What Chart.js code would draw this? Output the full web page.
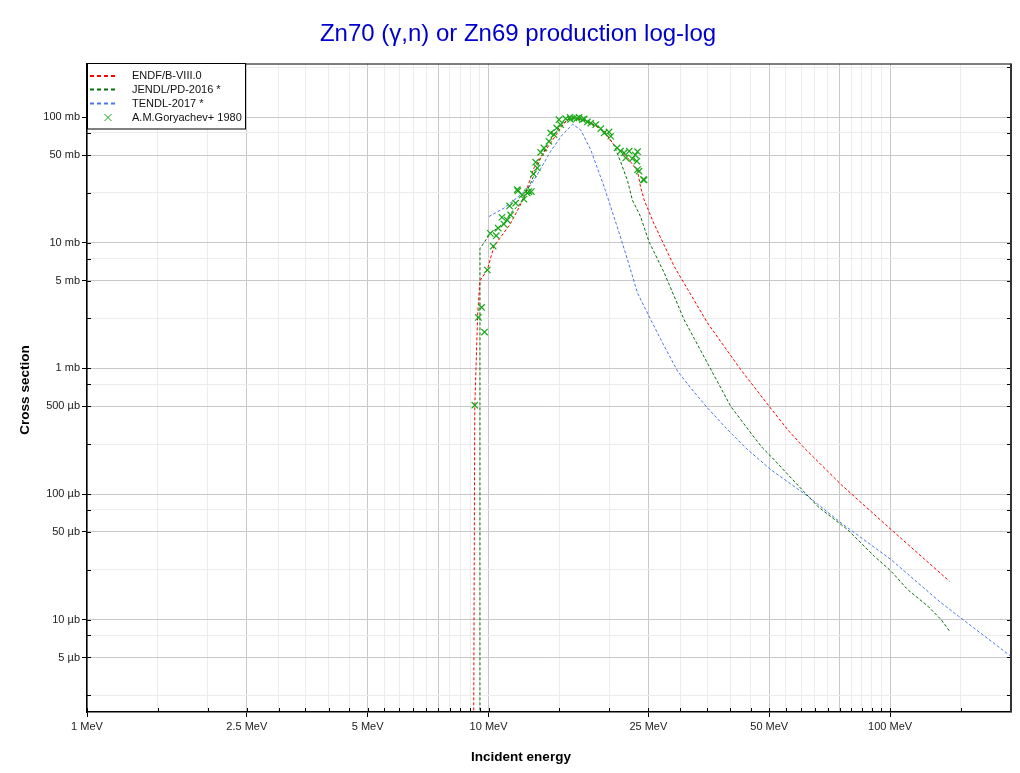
<!DOCTYPE html>
<html>
<head>
<meta charset="utf-8">
<script src="https://cdn.jsdelivr.net/npm/chart.js@4"></script>
<style>
  body { margin: 0; background: #fff; }
</style>
</head>
<body>
<canvas id="canvas" width="1020" height="773"></canvas>
<script>
// energies in MeV, cross sections in mb
const endfEnergy = [9.18, 9.24, 9.40, 9.52, 9.93, 10.31, 11.35, 12.25, 12.97, 14.0, 15.12, 15.7, 16.0, 16.8, 17.97, 19.4, 20.5, 22.2, 23.5, 23.9, 24.4, 25.8, 29.0, 35.1, 42.5, 50, 55.6, 61.1, 75.5, 100.6, 140.6];
const endfXs = [0.0012, 0.5, 2.8, 5.0, 6.1, 9.35, 14.3, 22.8, 39.5, 57, 82, 95.7, 98.6, 97, 90, 77.4, 60.5, 47.5, 37.2, 28, 22, 14.3, 6.48, 2.3, 0.976, 0.499, 0.325, 0.233, 0.119, 0.0521, 0.0202];

const jendlEnergy = [9.52, 9.52, 10.1, 10.92, 11.35, 12.02, 12.73, 13.5, 14.3, 15.1, 15.8, 16.5, 17.5, 18.5, 19.5, 20.5, 21.3, 22.2, 22.8, 23.9, 25.1, 27.4, 30.7, 35.1, 40.1, 45, 48.1, 50.5, 66, 78.4, 91.4, 100.6, 110.7, 124.2, 134, 140.6];
const jendlXs = [0.0012, 9.0, 11.9, 14.3, 17.3, 20.7, 29.8, 48, 68, 85, 96, 98, 93, 86, 76, 60.5, 44.7, 31, 22, 16.2, 10.2, 5.74, 2.44, 1.10, 0.499, 0.306, 0.233, 0.1995, 0.0798, 0.052, 0.0319, 0.0243, 0.0173, 0.0128, 0.010, 0.0081];

const tendlEnergy = [10.02, 10.92, 12.02, 12.73, 13.22, 14.28, 15.27, 16.2, 16.96, 17.97, 19.4, 20.9, 22.2, 23.5, 25.35, 27.4, 29.6, 31.9, 35.1, 39.4, 43.7, 50.5, 62.4, 75.5, 100.6, 134, 200];
const tendlXs = [16.2, 18.9, 24.1, 28.9, 34.9, 53.7, 72.7, 88, 79.3, 55, 28, 13.5, 7.3, 3.98, 2.44, 1.5, 0.946, 0.698, 0.484, 0.325, 0.233, 0.156, 0.096, 0.0589, 0.030, 0.0136, 0.0051];

const expEnergy = [9.24, 9.43, 9.61, 9.77, 9.93, 10.1, 10.27, 10.45, 10.57, 10.8, 10.92, 11.13, 11.28, 11.35, 11.68, 11.79, 11.83, 12.13, 12.25, 12.49, 12.6, 12.78, 12.93, 13.1, 13.22, 13.48, 13.74, 14.14, 14.28, 14.55, 14.78, 14.97, 15.12, 15.56, 15.95, 16.0, 16.32, 16.6, 16.8, 17.13, 17.3, 17.63, 17.97, 18.49, 19.03, 19.4, 19.95, 20.15, 20.9, 21.3, 21.75, 21.96, 22.4, 22.8, 23.2, 23.4, 23.5, 23.5, 23.7, 24.3, 24.4];
const expXs = [0.51, 2.55, 3.06, 1.95, 6.08, 11.9, 9.41, 11.4, 13.1, 16.0, 14.1, 15.2, 19.7, 16.7, 20.7, 26.5, 25.9, 24.1, 22.3, 25.0, 25.6, 25.6, 35.4, 43.9, 39.5, 52.6, 57, 64.4, 75, 72.7, 82.2, 95.7, 87.3, 97.5, 100, 96, 98.7, 98, 100, 95.7, 97, 91.8, 90, 87.3, 81.2, 75, 76.4, 70.6, 57, 53.7, 52, 47.5, 53.7, 46.9, 50, 44.7, 38.3, 53.2, 37.2, 31.9, 31.7];

const xTicks = [1, 1.5, 2, 2.5, 3, 3.5, 4, 4.5, 5, 5.5, 6, 6.5, 7, 7.5, 8, 8.5, 9, 9.5, 10, 15, 20, 25, 30, 35, 40, 45, 50, 55, 60, 65, 70, 75, 80, 85, 90, 95, 100, 150, 200];
const xDark = [1, 2.5, 5, 7.5, 10, 25, 50, 75, 100];
const xLabels = { 1: '1 MeV', 2.5: '2.5 MeV', 5: '5 MeV', 10: '10 MeV', 25: '25 MeV', 50: '50 MeV', 100: '100 MeV' };

const yTicks = [0.0025, 0.005, 0.0075, 0.01, 0.025, 0.05, 0.075, 0.1, 0.25, 0.5, 0.75, 1, 2.5, 5, 7.5, 10, 25, 50, 75, 100, 250];
const yLabels = { 0.005: '5 µb', 0.01: '10 µb', 0.05: '50 µb', 0.1: '100 µb', 0.5: '500 µb', 1: '1 mb', 5: '5 mb', 10: '10 mb', 50: '50 mb', 100: '100 mb' };

const seriesNames = ['ENDF/B-VIII.0', 'JENDL/PD-2016 *', 'TENDL-2017 *', 'A.M.Goryachev+ 1980'];
const seriesColors = ['#ff0000', '#0a6e0a', '#4a78e6', '#14a814'];

const FONT = "'Liberation Sans', Arial, sans-serif";

function pts(xs, ys) {
  return xs.map((x, i) => ({ x: x, y: ys[i] }));
}

function lineSet(i, xs, ys) {
  return {
    label: seriesNames[i],
    data: pts(xs, ys),
    borderColor: seriesColors[i],
    borderWidth: 1,
    borderDash: [3, 2],
    pointRadius: 0,
    tension: 0,
    fill: false,
    order: 1
  };
}

// frame, inner ticks, titles and legend
const decor = {
  id: 'decor',
  afterDatasetsDraw(chart) {
    const ctx = chart.ctx;
    const a = chart.chartArea;
    const xs = chart.scales.x, ys = chart.scales.y;
    ctx.save();
    ctx.strokeStyle = '#000';
    ctx.lineWidth = 1;
    ctx.beginPath();
    xTicks.forEach(v => {
      const px = Math.round(xs.getPixelForValue(v)) + 0.5;
      ctx.moveTo(px, a.bottom); ctx.lineTo(px, a.bottom - 4);
    });
    yTicks.forEach(v => {
      const py = Math.round(ys.getPixelForValue(v)) + 0.5;
      ctx.moveTo(a.left, py); ctx.lineTo(a.left + 4, py);
      ctx.moveTo(a.right, py); ctx.lineTo(a.right - 4, py);
    });
    ctx.stroke();
    ctx.beginPath();
    ctx.moveTo(a.left, a.top + 0.5); ctx.lineTo(a.right, a.top + 0.5);
    ctx.stroke();
    ctx.lineWidth = 2;
    ctx.strokeStyle = '#333';
    ctx.beginPath();
    ctx.moveTo(a.right, a.top); ctx.lineTo(a.right, a.bottom);
    ctx.stroke();

    // legend
    const lx = 87.5, ly = 63.5, lw = 158, lh = 65.5;
    ctx.fillStyle = '#fff';
    ctx.fillRect(lx, ly, lw, lh);
    ctx.strokeStyle = '#000';
    ctx.lineWidth = 1;
    ctx.strokeRect(lx, ly, lw, lh);
    const rows = [76, 89.5, 103.5, 117.5];
    ctx.font = '11px ' + FONT;
    ctx.textBaseline = 'middle';
    ctx.textAlign = 'left';
    rows.forEach((ry, i) => {
      ctx.strokeStyle = seriesColors[i];
      if (i < 3) {
        ctx.lineWidth = 2;
        ctx.setLineDash([4, 3]);
        ctx.beginPath();
        ctx.moveTo(90, ry); ctx.lineTo(118, ry);
        ctx.stroke();
        ctx.setLineDash([]);
      } else {
        ctx.lineWidth = 1;
        ctx.beginPath();
        ctx.moveTo(104.5, ry - 3.5); ctx.lineTo(111.5, ry + 3.5);
        ctx.moveTo(111.5, ry - 3.5); ctx.lineTo(104.5, ry + 3.5);
        ctx.stroke();
      }
      ctx.fillStyle = '#111';
      ctx.fillText(seriesNames[i], 132, ry);
    });

    // titles
    ctx.fillStyle = '#0000cc';
    ctx.textAlign = 'center';
    ctx.font = '24px ' + FONT;
    ctx.fillText('Zn70 (γ,n) or Zn69 production log-log', 518, 34);
    ctx.fillStyle = '#000';
    ctx.font = 'bold 13.5px ' + FONT;
    ctx.fillText('Incident energy', 521, 757);
    ctx.translate(25, 390);
    ctx.rotate(-Math.PI / 2);
    ctx.fillText('Cross section', 0, 0);
    ctx.restore();
  }
};

new Chart(document.getElementById('canvas').getContext('2d'), {
  type: 'line',
  data: {
    datasets: [
      lineSet(0, endfEnergy, endfXs),
      lineSet(1, jendlEnergy, jendlXs),
      lineSet(2, tendlEnergy, tendlXs),
      {
        label: seriesNames[3],
        data: pts(expEnergy, expXs),
        showLine: false,
        pointStyle: 'crossRot',
        pointRadius: 4.5,
        pointBorderWidth: 1.2,
        borderColor: seriesColors[3],
        backgroundColor: seriesColors[3],
        order: 0
      }
    ]
  },
  options: {
    responsive: false,
    animation: false,
    layout: { padding: { top: 63.5, right: 9, bottom: 0, left: 0 } },
    plugins: {
      legend: { display: false },
      title: { display: false },
      tooltip: { enabled: false }
    },
    scales: {
      x: {
        type: 'logarithmic',
        min: 1,
        max: 200,
        afterBuildTicks: (scale) => { scale.ticks = xTicks.map(v => ({ value: v })); },
        afterFit: (scale) => { scale.height = 61; },
        ticks: {
          autoSkip: false,
          maxRotation: 0,
          padding: 3,
          color: '#222',
          font: { family: FONT, size: 11 },
          callback: (v) => xLabels[v] || ''
        },
        grid: {
          color: (c) => (c.tick && xDark.includes(c.tick.value)) ? '#c8c8c8' : '#ececec',
          tickLength: 5,
          tickColor: (c) => (c.tick && xLabels[c.tick.value]) ? '#000' : 'rgba(0,0,0,0)'
        },
        border: { color: '#000', width: 1.5 }
      },
      y: {
        type: 'logarithmic',
        min: 0.00184,
        max: 268,
        afterBuildTicks: (scale) => { scale.ticks = yTicks.map(v => ({ value: v })); },
        afterFit: (scale) => { scale.width = 87; },
        ticks: {
          autoSkip: false,
          padding: 2,
          color: '#222',
          font: { family: FONT, size: 11 },
          callback: (v) => yLabels[v] || ''
        },
        grid: {
          color: (c) => (c.tick && yLabels[c.tick.value]) ? '#c8c8c8' : '#ececec',
          tickLength: 5,
          tickColor: (c) => (c.tick && yLabels[c.tick.value]) ? '#000' : 'rgba(0,0,0,0)'
        },
        border: { color: '#000', width: 1.5 }
      }
    }
  },
  plugins: [decor]
});
</script>
</body>
</html>
